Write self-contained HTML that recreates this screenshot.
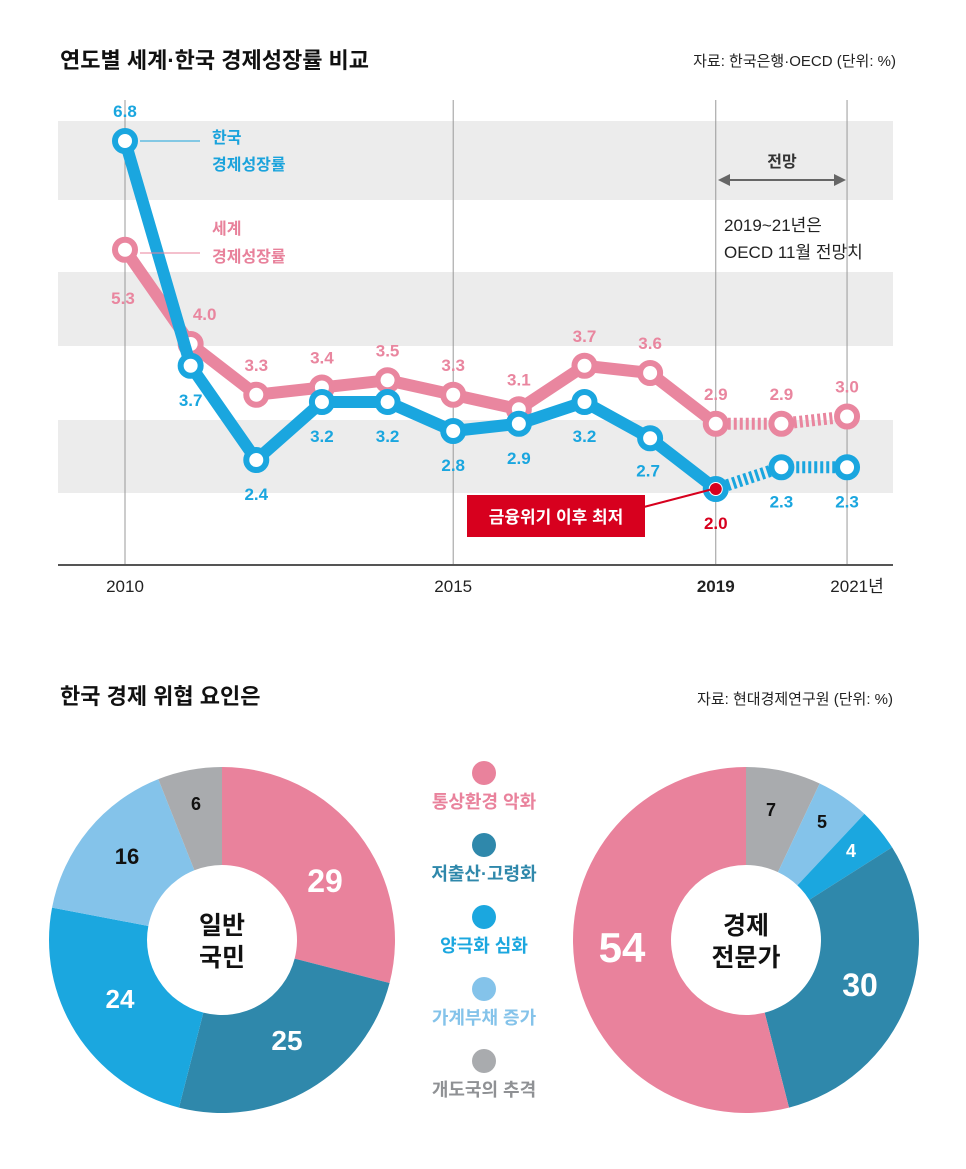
<!DOCTYPE html>
<html><head><meta charset="utf-8"><style>
body{margin:0;background:#fff;}
svg{display:block;font-family:"Liberation Sans","Noto Sans CJK KR",sans-serif;}
</style></head><body>
<svg id="c" width="966" height="1169" viewBox="0 0 966 1169">
<rect x="0" y="0" width="966" height="1169" fill="#fff"/>
<text x="60" y="68" font-size="22" font-weight="bold" fill="#111">연도별 세계·한국 경제성장률 비교</text>
<text x="896" y="66" font-size="15" fill="#222" text-anchor="end">자료: 한국은행·OECD (단위: %)</text>
<g id="bands"></g>
<g id="grid"></g>
<line x1="58" y1="565" x2="893" y2="565" stroke="#555" stroke-width="2"/>
<g id="xt"></g>
<g id="lines"></g>
<text x="212" y="143" font-size="16" font-weight="bold" fill="#1aa3dc">한국</text>
<text x="212" y="170" font-size="16" font-weight="bold" fill="#1aa3dc">경제성장률</text>
<line x1="140" y1="141" x2="200" y2="141" stroke="#1aa3dc" stroke-width="1"/>
<text x="212" y="234" font-size="16" font-weight="bold" fill="#e8819b">세계</text>
<text x="212" y="262" font-size="16" font-weight="bold" fill="#e8819b">경제성장률</text>
<line x1="140" y1="253" x2="200" y2="253" stroke="#e8819b" stroke-width="1"/>
<g>
<text x="782" y="167" font-size="16" font-weight="bold" fill="#333" text-anchor="middle">전망</text>
<line x1="726" y1="180" x2="838" y2="180" stroke="#666" stroke-width="2"/>
<polygon points="718,180 730,174 730,186" fill="#666"/>
<polygon points="846,180 834,174 834,186" fill="#666"/>
<text x="724" y="231" font-size="17" fill="#222">2019~21년은</text>
<text x="724" y="258" font-size="17" fill="#222">OECD 11월 전망치</text>
</g>
<g>
<line x1="640" y1="508" x2="713" y2="489" stroke="#d7001e" stroke-width="2"/>
<rect x="467" y="495" width="178" height="42" fill="#d7001e"/>
<text x="556" y="523" font-size="17" font-weight="bold" fill="#fff" text-anchor="middle">금융위기 이후 최저</text>
</g>
<text x="60" y="704" font-size="22" font-weight="bold" fill="#111">한국 경제 위협 요인은</text>
<text x="893" y="704" font-size="15" fill="#222" text-anchor="end">자료: 현대경제연구원 (단위: %)</text>
<g id="pies"></g>
<g id="legend"></g>
</svg>
<script>
const years=[2010,2011,2012,2013,2014,2015,2016,2017,2018,2019,2020,2021];
const korea=[6.8,3.7,2.4,3.2,3.2,2.8,2.9,3.2,2.7,2.0,2.3,2.3];
const world=[5.3,4.0,3.3,3.4,3.5,3.3,3.1,3.7,3.6,2.9,2.9,3.0];
const xTicks=["2010","2015","2019","2021년"];
const xTickYears=[2010,2015,2019,2021];
const pieCats=["통상환경 악화","저출산·고령화","양극화 심화","가계부채 증가","개도국의 추격"];
const pubValues=[29,25,24,16,6];
const expValues=[54,30,4,5,7];
const colors=["#e9829c","#2f88ab","#1ba7df","#84c3ea","#a9abae"];
const ns="http://www.w3.org/2000/svg";
function mk(t,a,p){const e=document.createElementNS(ns,t);for(const k in a)e.setAttribute(k,a[k]);p.appendChild(e);return e;}
const X=y=>125+(y-2010)*65.64;
const Y=v=>489-(v-2)*72.5;
const bands=document.getElementById('bands');
[[121,200],[272,346],[420,493]].forEach(b=>{const r=mk('rect',{x:58,y:b[0],width:835,height:b[1]-b[0],fill:'#ececec'},bands);

});
const grid=document.getElementById('grid'),xt=document.getElementById('xt');
xTickYears.forEach((y,i)=>{const l=mk('line',{x1:X(y),y1:100,x2:X(y),y2:565,stroke:'#999','stroke-width':1},grid);


const t=mk('text',{x:X(y)+(i==3?10:0),y:592,'font-size':17,fill:'#222','text-anchor':'middle','font-weight':y==2019?'bold':'normal'},xt);t.textContent=xTicks[i];

});
const L=document.getElementById('lines');
function series(vals,col,name,lab){
 const n=9;
 let d=vals.slice(0,10).map((v,i)=>(i?'L':'M')+X(years[i])+' '+Y(v)).join(' ');
 const p=mk('path',{d:d,fill:'none',stroke:col,'stroke-width':12,'stroke-linejoin':'round'},L);
 
 
 let d2=vals.slice(9).map((v,i)=>(i?'L':'M')+X(years[i+9])+' '+Y(v)).join(' ');
 const p2=mk('path',{d:d2,fill:'none',stroke:col,'stroke-width':12,'stroke-dasharray':'3 3'},L);
 
 
 vals.forEach((v,i)=>{
  const c=mk('circle',{cx:X(years[i]),cy:Y(v),r:10,fill:'#fff',stroke:col,'stroke-width':6},L);
  
  
  const o=lab(i);
  const t=mk('text',{x:X(years[i])+o[0],y:Y(v)+o[1],'font-size':17,'font-weight':'bold',fill:o[2]||col,'text-anchor':'middle'},L);
  t.textContent=v.toFixed(1);
  
  
 });
}
series(world,'#e9869f','world',i=>i==0?[-2,54]:i==1?[14,-24]:[0,-24]);
series(korea,'#1aa6df','korea',i=>i==0?[0,-24]:i==8?[-2,38]:i==9?[0,40,'#d7001e']:[0,40]);
mk('circle',{cx:X(2019),cy:Y(korea[9]),r:6,fill:'#d7001e'},L);
const P=document.getElementById('pies');
function donut(cx,cy,vals,order,name,labels,center){
 const R=173,r0=75;let a=0;const tot=vals.reduce((s,v)=>s+v,0);
 order.forEach((k,j)=>{const v=vals[k];const a1=a+v/tot*2*Math.PI;
  const pt=(rr,aa)=>[cx+rr*Math.sin(aa),cy-rr*Math.cos(aa)];
  const [x1,y1]=pt(R,a),[x2,y2]=pt(R,a1),[x3,y3]=pt(r0,a1),[x4,y4]=pt(r0,a);
  const lg=a1-a>Math.PI?1:0;
  const s=mk('path',{d:`M${x1} ${y1}A${R} ${R} 0 ${lg} 1 ${x2} ${y2}L${x3} ${y3}A${r0} ${r0} 0 ${lg} 0 ${x4} ${y4}Z`,fill:colors[k]},P);
  
  
  const l=labels[k];
  const t=mk('text',{x:l[0],y:l[1],'font-size':l[2],'font-weight':'bold',fill:l[3],'text-anchor':'middle'},P);t.textContent=v;
  
  
  a=a1;});
 center.forEach((c,i)=>{const t=mk('text',{x:cx,y:cy-6+i*32,'font-size':25,'font-weight':'bold',fill:'#111','text-anchor':'middle'},P);t.textContent=c;
  
  });
}
donut(222,940,pubValues,[0,1,2,3,4],'public-donut',[[325,892,32,'#fff'],[287,1050,28,'#fff'],[120,1008,26,'#fff'],[127,864,22,'#111'],[196,810,18,'#111']],['일반','국민']);
donut(746,940,expValues,[4,3,2,1,0],'expert-donut',[[622,962,42,'#fff'],[860,996,32,'#fff'],[851,857,18,'#fff'],[822,828,18,'#111'],[771,816,18,'#111']],['경제','전문가']);
const G=document.getElementById('legend');
pieCats.forEach((c,i)=>{const y=773+i*72;
 const d=mk('circle',{cx:484,cy:y,r:12,fill:colors[i]},G);
 
 
 const t=mk('text',{x:484,y:y+35,'font-size':18,'font-weight':'bold',fill:i==4?'#8f9194':colors[i],'text-anchor':'middle'},G);t.textContent=c;
 
 });
</script>
</body></html>
